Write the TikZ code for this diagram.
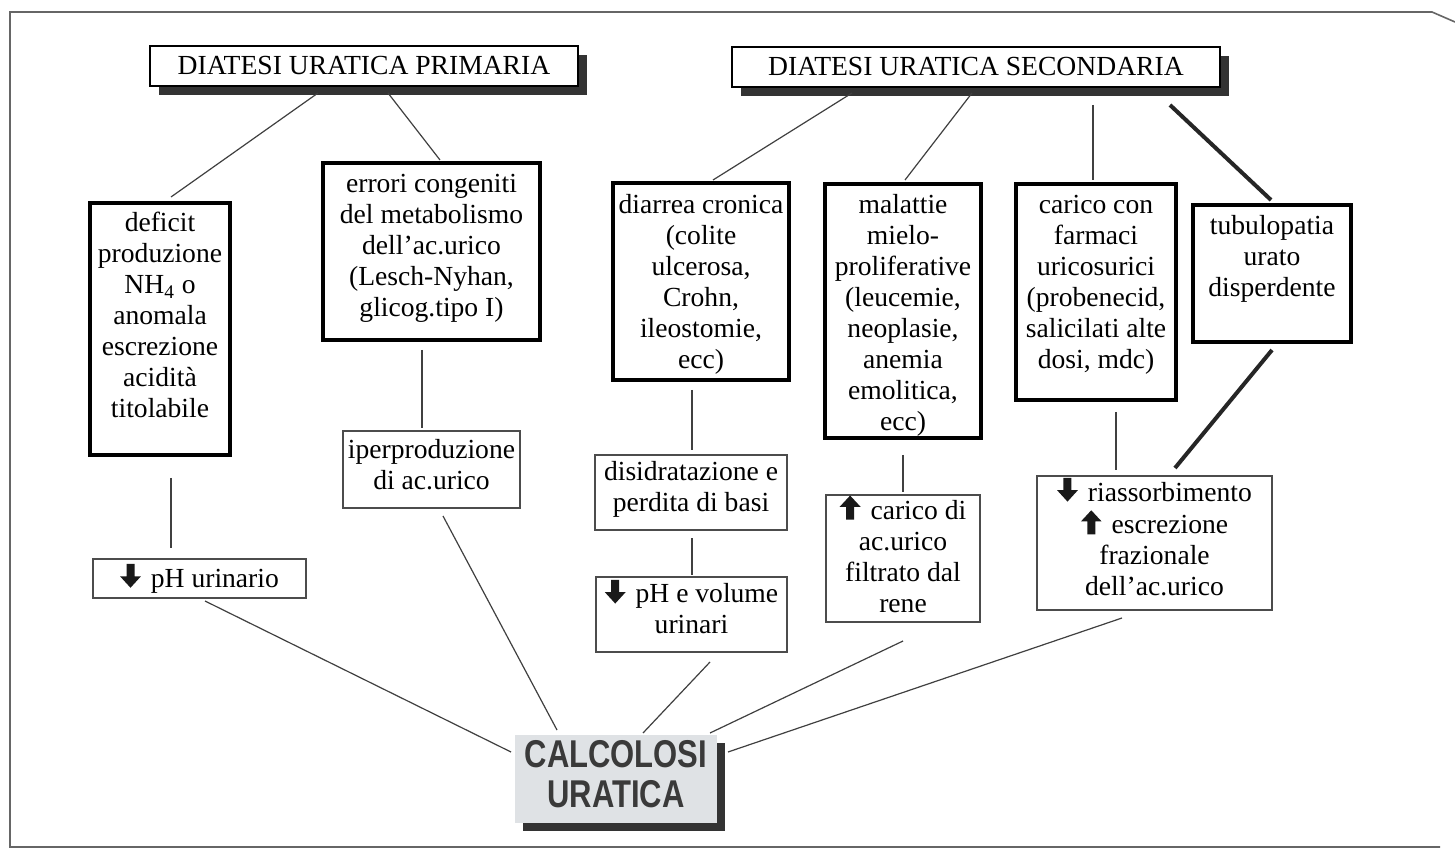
\documentclass[tikz,border=0pt]{standalone}
\usepackage{fontspec}
\usepackage{graphicx}
\setmainfont{Liberation Serif}
\newfontfamily\calcfont{Liberation Sans}
\usetikzlibrary{calc,shadows}
\definecolor{calcfill}{HTML}{DFE2E5}
\definecolor{calctext}{HTML}{3A3A3A}
\newcommand\ardown{\tikz[baseline=0pt,x=1pt,y=1pt]\fill[black!90] (5,-0.3)--(10.2,5.4)--(7,5.4)--(7,11.6)--(3,11.6)--(3,5.4)--(-0.2,5.4)--cycle;\kern5pt}
\newcommand\arup{\tikz[baseline=0pt,x=1pt,y=1pt]\fill[black!90] (5,11.8)--(10.2,6.2)--(7,6.2)--(7,-0.2)--(3,-0.2)--(3,6.2)--(-0.2,6.2)--cycle;\kern5pt}
\newcommand\txt[2]{\raisebox{#1}[\height][\depth]{\begin{tabular}{@{}c@{}}#2\end{tabular}}}
\begin{document}
\begin{tikzpicture}[x=0.5pt,y=-0.5pt,
  every node/.style={inner sep=0pt, outer sep=0pt, font=\fontsize{13.8}{15.5}\selectfont},
  sz/.style 2 args={minimum width=#1*0.5pt, minimum height=#2*0.5pt},
  head/.style={draw=black, line width=0.9pt, fill=white,
    drop shadow={shadow xshift=4.5pt, shadow yshift=-4.5pt, fill=black!80, opacity=1}},
  thickbox/.style={draw=black, line width=2pt, fill=white},
  thinbox/.style={draw=black!70, line width=0.8pt, fill=white},
  calcbox/.style={fill=calcfill, text=calctext,
    font=\calcfont\bfseries\fontsize{15.5}{16}\selectfont,
    drop shadow={shadow xshift=4pt, shadow yshift=-4pt, fill=black!80, opacity=1}},
  conn/.style={draw=black!75, line width=0.6pt},
  thickconn/.style={draw=black!85, line width=2pt},
]
\useasboundingbox (0,0) rectangle (1455,849);
\fill[white] (0,0) rectangle (1455,849);
\draw[black!60, line width=0.8pt] (1455,22) -- (1432,12) -- (10,12) -- (10,847) -- (1440,847);

% headers
\node[head, sz={428}{40}] (prim) at (364,66) {DIATESI URATICA PRIMARIA};
\node[head, sz={488}{40}] (sec) at (976,67) {DIATESI URATICA SECONDARIA};

% thick boxes
\node[thickbox, sz={140}{252}] (deficit) at (160,329)
  {\txt{5.25pt}{deficit\\produzione\\NH\textsubscript{4} o\\anomala\\escrezione\\acidità\\titolabile}};
\node[thickbox, sz={217}{177}] (errori) at (431.5,251.5)
  {\txt{1.5pt}{errori congeniti\\del metabolismo\\dell’ac.urico\\(Lesch-Nyhan,\\glicog.tipo I)}};
\node[thickbox, sz={176}{197}] (diarrea) at (701,281.5)
  {\txt{-1.5pt}{diarrea cronica\\(colite\\ulcerosa,\\Crohn,\\ileostomie,\\ecc)}};
\node[thickbox, sz={156}{254}] (malattie) at (903,311)
  {\txt{-2.25pt}{malattie\\mielo-\\proliferative\\(leucemie,\\neoplasie,\\anemia\\emolitica,\\ecc)}};
\node[thickbox, sz={160}{216}] (carico) at (1096,292)
  {\txt{3.75pt}{carico con\\farmaci\\uricosurici\\(probenecid,\\salicilati alte\\dosi, mdc)}};
\node[thickbox, sz={158}{137}] (tubulo) at (1272,273.5)
  {\txt{7.25pt}{tubulopatia\\urato\\disperdente}};

% thin boxes
\node[thinbox, sz={213}{39}] (phur) at (199.5,578.5) {\ardown pH urinario};
\node[thinbox, sz={177}{77}] (iper) at (431.5,469.5)
  {\txt{1pt}{iperproduzione\\di ac.urico}};
\node[thinbox, sz={192}{75}] (disid) at (691,492.5)
  {\txt{1.5pt}{disidratazione e\\perdita di basi}};
\node[thinbox, sz={191}{75}] (phvol) at (691.5,614.5)
  {\txt{1.5pt}{\ardown pH e volume\\urinari}};
\node[thinbox, sz={154}{127}] (caricodi) at (903,558.5)
  {\txt{0pt}{\arup carico di\\ac.urico\\filtrato dal\\rene}};
\node[thinbox, sz={235}{134}] (riass) at (1154.5,543)
  {\txt{0.75pt}{\ardown riassorbimento\\\arup escrezione\\frazionale\\dell’ac.urico}};

% result
\node[calcbox, sz={202}{88}] (calc) at (616,779)
  {\raisebox{1pt}{\scalebox{1}[1.25]{\begin{tabular}{@{}c@{}}CALCOLOSI\\URATICA\end{tabular}}}};

% connectors
\draw[conn] ($(prim)+(-46,27)$) -- ($(deficit)+(11,-132)$);
\draw[conn] ($(prim)+(24,27)$) -- ($(errori)+(8.5,-91.5)$);
\draw[conn] ($(deficit)+(11,149)$) -- ($(phur)+(-28.5,-30.5)$);
\draw[conn] ($(errori)+(-9.5,98.5)$) -- ($(iper)+(-9.5,-41.5)$);
\draw[conn] ($(phur)+(5.5,22.5)$) -- ($(calc)+(-105,-27)$);
\draw[conn] ($(iper)+(11.5,46.5)$) -- ($(calc)+(-59,-49)$);
\draw[conn] ($(sec)+(-124,26)$) -- ($(diarrea)+(12,-101.5)$);
\draw[conn] ($(sec)+(-4,26)$) -- ($(malattie)+(2,-131)$);
\draw[conn] ($(sec)+(117,38)$) -- ($(carico)+(-3,-112)$);
\draw[thickconn] ($(sec)+(194,38)$) -- ($(tubulo)+(-1,-73.5)$);
\draw[conn] ($(diarrea)+(-9,108.5)$) -- ($(disid)+(1,-42.5)$);
\draw[conn] ($(disid)+(1,45.5)$) -- ($(phvol)+(0.5,-39.5)$);
\draw[conn] ($(phvol)+(18.5,47.5)$) -- ($(calc)+(27,-46)$);
\draw[conn] ($(malattie)+(0,144)$) -- ($(caricodi)+(0,-66.5)$);
\draw[conn] ($(caricodi)+(0,82.5)$) -- ($(calc)+(94,-46)$);
\draw[conn] ($(carico)+(20,120)$) -- ($(riass)+(-38.5,-73)$);
\draw[thickconn] ($(tubulo)+(0,76.5)$) -- ($(riass)+(20.5,-75)$);
\draw[conn] ($(riass)+(-32.5,75)$) -- ($(calc)+(112,-27)$);
\end{tikzpicture}
\end{document}
